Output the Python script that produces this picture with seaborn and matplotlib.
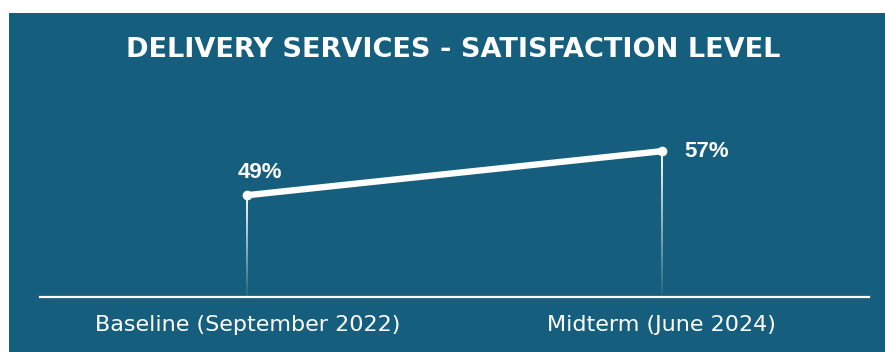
import numpy as np
import pandas as pd
import matplotlib
matplotlib.use("Agg")
import matplotlib.pyplot as plt
import seaborn as sns
from matplotlib.patches import Rectangle
from matplotlib.collections import LineCollection

# ---- data ----
categories = ["Baseline (September 2022)", "Midterm (June 2024)"]
satisfaction = [49, 57]
value_labels = ["49%", "57%"]
title = "DELIVERY SERVICES - SATISFACTION LEVEL"

BG = "#165E7E"
sns.set_theme(style="white")
plt.rcParams["font.family"] = ["DejaVu Sans"]

W, H = 885, 352
fig = plt.figure(figsize=(W / 100, H / 100), dpi=100, facecolor="white")
# blue panel
fig.patches.append(Rectangle((9 / W, 0), 1, (H - 13) / H, transform=fig.transFigure,
                             facecolor=BG, edgecolor="none", zorder=-10))

ax = fig.add_axes([40 / W, (H - 297) / H, (869 - 40) / W, (297 - 100) / H])
ax.set_facecolor("none")
ax.set_zorder(2)

df = pd.DataFrame({"x": np.arange(len(categories)), "y": satisfaction})
sns.lineplot(data=df, x="x", y="y", ax=ax, color="white", linewidth=4.6,
             marker="o", markersize=7, markeredgewidth=0, solid_capstyle="round",
             zorder=5)

ymin, ymax = 30.5, 66.3
ax.set_ylim(ymin, ymax)
ax.set_xlim(-0.5, 1.5)

# gradient drop lines
n = 60
for xi, yi in zip(df["x"], df["y"]):
    ys = np.linspace(ymin, yi, n + 1)
    segs = [[(xi, ys[k]), (xi, ys[k + 1])] for k in range(n)]
    alphas = np.linspace(0.05, 1.0, n)
    cols = [(1, 1, 1, a) for a in alphas]
    ax.add_collection(LineCollection(segs, colors=cols, linewidths=1.4, zorder=3))

# value labels
offsets = [(13, 23), (45, 0)]
for xi, yi, lab, off in zip(df["x"], df["y"], value_labels, offsets):
    ax.annotate(lab, (xi, yi), xytext=off, textcoords="offset pixels",
                ha="center", va="center", color="white", fontsize=16,
                fontweight="bold", family=["Liberation Sans", "DejaVu Sans"])

ax.set_xticks(df["x"])
ax.set_xticklabels(categories, color="white", fontsize=16,
                   family=["DejaVu Sans"], fontweight="normal")
ax.tick_params(axis="x", length=0, pad=13)
ax.set_yticks([])
ax.set_xlabel("")
ax.set_ylabel("")
for s in ["top", "left", "right"]:
    ax.spines[s].set_visible(False)
ax.spines["bottom"].set_color("white")
ax.spines["bottom"].set_linewidth(1.6)

fig.text(453 / W, 1 - 50 / H, title, ha="center", va="center", color="white",
         fontsize=19.5, fontweight="bold", family=["DejaVu Sans"])

fig.savefig("out.png", dpi=100, facecolor="white")
